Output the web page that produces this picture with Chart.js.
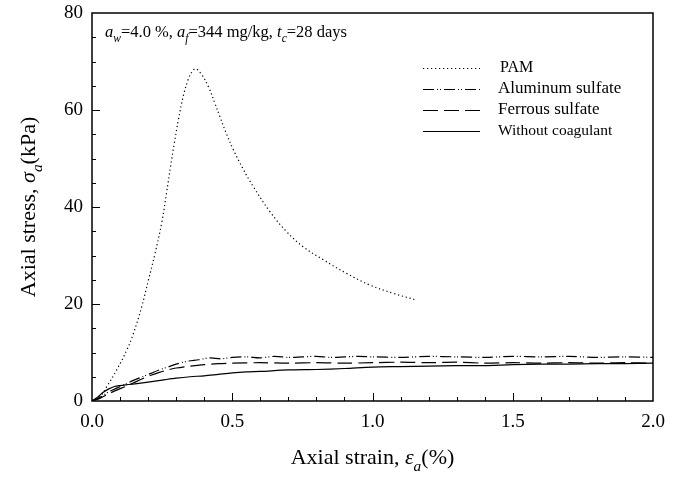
<!DOCTYPE html>
<html lang="en">
<head>
  <meta charset="UTF-8" />
  <title>Axial stress vs axial strain</title>
  <style>
    body { margin: 0; background: #fff; }
    #wrap { width: 682px; height: 477px; }
  </style>
  <script src="https://cdn.jsdelivr.net/npm/chart.js"></script>
</head>
<body>
  <div id="wrap">
    <canvas id="myChart" width="682" height="477"></canvas>
  </div>

<script>
  // valores
  const strainPam = [0, 0.03, 0.052, 0.088, 0.124, 0.147, 0.177, 0.201, 0.225, 0.248, 0.266, 0.28, 0.293, 0.308, 0.326, 0.343, 0.358, 0.37, 0.391, 0.415, 0.438, 0.456, 0.48, 0.504, 0.539, 0.575, 0.635, 0.694, 0.753, 0.825, 0.908, 0.991, 1.074, 1.157];
  const stressPam = [0, 1.0, 2.9, 6.4, 10.5, 13.8, 19.4, 24.9, 30.5, 36.6, 43.0, 48.3, 53.0, 58.0, 63.0, 66.3, 68.0, 68.5, 67.3, 64.8, 61.4, 58.6, 55.0, 51.8, 47.8, 44.2, 39.0, 34.9, 31.8, 29.1, 26.3, 23.9, 22.2, 20.8];

  const strainAl = [0, 0.03, 0.06, 0.09, 0.12, 0.15, 0.18, 0.21, 0.24, 0.27, 0.30, 0.34, 0.38, 0.42, 0.46, 0.50, 0.55, 0.60, 0.65, 0.70, 0.75, 0.80, 0.85, 0.90, 0.95, 1.0, 1.1, 1.2, 1.3, 1.4, 1.5, 1.6, 1.7, 1.8, 1.9, 2.0];
  const stressAl = [0, 0.8, 1.9, 2.7, 3.5, 4.3, 5.0, 5.7, 6.4, 7.0, 7.6, 8.2, 8.5, 8.9, 8.7, 9.0, 9.1, 8.9, 9.2, 9.0, 9.1, 9.2, 9.0, 9.1, 9.2, 9.1, 9.0, 9.2, 9.1, 9.0, 9.2, 9.1, 9.2, 9.0, 9.1, 9.0];

  const strainFe = [0, 0.03, 0.06, 0.09, 0.12, 0.15, 0.18, 0.21, 0.24, 0.27, 0.30, 0.35, 0.40, 0.45, 0.50, 0.6, 0.7, 0.8, 0.9, 1.0, 1.1, 1.2, 1.3, 1.4, 1.5, 1.6, 1.7, 1.8, 1.9, 2.0];
  const stressFe = [0, 0.6, 1.5, 2.3, 3.0, 3.8, 4.6, 5.3, 5.9, 6.4, 6.8, 7.2, 7.5, 7.7, 7.8, 7.9, 7.8, 7.9, 7.8, 7.9, 8.0, 7.9, 8.0, 7.8, 7.9, 7.8, 7.9, 7.8, 7.9, 7.8];

  const strainSem = [0, 0.02, 0.04, 0.06, 0.08, 0.10, 0.13, 0.16, 0.2, 0.25, 0.3, 0.35, 0.4, 0.45, 0.5, 0.55, 0.6, 0.7, 0.8, 0.9, 1.0, 1.1, 1.2, 1.3, 1.4, 1.5, 1.6, 1.7, 1.8, 1.9, 2.0];
  const stressSem = [0, 0.8, 1.8, 2.5, 3.0, 3.2, 3.4, 3.6, 3.9, 4.3, 4.7, 5.0, 5.2, 5.5, 5.8, 6.0, 6.1, 6.4, 6.5, 6.7, 7.0, 7.1, 7.2, 7.3, 7.3, 7.5, 7.6, 7.6, 7.7, 7.7, 7.8];

  const xTicks = [0, 0.5, 1.0, 1.5, 2.0];
  const yTicks = [0, 20, 40, 60, 80];

  const FONTE = "Liberation Serif";

  function pontos(xs, ys) {
    return xs.map((x, i) => ({ x: x, y: ys[i] }));
  }

  // texto com italico e subscrito
  function textoRico(ctx, partes, x, y, size, align) {
    let total = 0;
    partes.forEach(p => {
      const s = p.sub ? size * 0.7 : size;
      ctx.font = (p.i ? "italic " : "") + s + "px '" + FONTE + "'";
      p.w = ctx.measureText(p.t).width;
      total += p.w;
    });
    let cx = align === "center" ? x - total / 2 : x;
    partes.forEach(p => {
      const s = p.sub ? size * 0.7 : size;
      ctx.font = (p.i ? "italic " : "") + s + "px '" + FONTE + "'";
      ctx.fillText(p.t, cx, p.sub ? y + size * 0.3 : y);
      cx += p.w;
    });
  }

  const decoracao = {
    id: "decoracao",
    afterDraw(chart) {
      const ctx = chart.ctx;
      const a = chart.chartArea;
      const sx = chart.scales.x;
      const sy = chart.scales.y;
      ctx.save();
      ctx.strokeStyle = "#000";
      ctx.fillStyle = "#000";
      ctx.setLineDash([]);

      // moldura
      ctx.lineWidth = 1.5;
      ctx.strokeRect(a.left, a.top, a.right - a.left, a.bottom - a.top);

      // ticks para dentro
      ctx.lineWidth = 1;
      ctx.beginPath();
      for (let i = 1; i < 20; i++) {
        const px = Math.round(sx.getPixelForValue(i / 10)) + 0.5;
        const len = i % 5 === 0 ? 8 : 4;
        ctx.moveTo(px, a.bottom);
        ctx.lineTo(px, a.bottom - len);
      }
      for (let i = 1; i < 16; i++) {
        const py = Math.round(sy.getPixelForValue(i * 5)) + 0.5;
        const len = i % 4 === 0 ? 8 : 4;
        ctx.moveTo(a.left, py);
        ctx.lineTo(a.left + len, py);
      }
      ctx.stroke();

      // titulos dos eixos
      ctx.textBaseline = "alphabetic";
      textoRico(ctx, [
        { t: "Axial strain, " },
        { t: "\u03b5", i: 1 },
        { t: "a", i: 1, sub: 1 },
        { t: "(%)" }
      ], (a.left + a.right) / 2, 464, 22, "center");

      ctx.save();
      ctx.translate(35, (a.top + a.bottom) / 2);
      ctx.rotate(-Math.PI / 2);
      textoRico(ctx, [
        { t: "Axial stress, " },
        { t: "\u03c3", i: 1 },
        { t: "a", i: 1, sub: 1 },
        { t: "(kPa)" }
      ], 0, 0, 22, "center");
      ctx.restore();

      // anotacao
      textoRico(ctx, [
        { t: "a", i: 1 }, { t: "w", i: 1, sub: 1 }, { t: "=4.0 %, " },
        { t: "a", i: 1 }, { t: "f", i: 1, sub: 1 }, { t: "=344 mg/kg, " },
        { t: "t", i: 1 }, { t: "c", i: 1, sub: 1 }, { t: "=28 days" }
      ], 105, 37, 16.5, "left");

      // legenda
      const linhas = [68, 89, 110, 131];
      const tamanhos = [16, 17, 17, 15.5];
      chart.data.datasets.forEach((ds, k) => {
        const y = linhas[k] + 0.5;
        ctx.lineWidth = ds.borderWidth;
        ctx.setLineDash(ds.borderDash || []);
        ctx.beginPath();
        ctx.moveTo(423, y);
        ctx.lineTo(480, y);
        ctx.stroke();
        ctx.setLineDash([]);
        ctx.font = tamanhos[k] + "px '" + FONTE + "'";
        ctx.textBaseline = "middle";
        ctx.fillText(ds.label, k === 0 ? 500 : 498, linhas[k]);
      });
      ctx.restore();
    }
  };

  const ctx = document.getElementById("myChart").getContext("2d");

  new Chart(ctx, {
    type: "line",
    data: {
      datasets: [
        {
          label: "PAM",
          data: pontos(strainPam, stressPam),
          borderColor: "#000",
          borderWidth: 1.2,
          borderDash: [1.2, 2.8],
          pointRadius: 0,
          tension: 0.4
        },
        {
          label: "Aluminum sulfate",
          data: pontos(strainAl, stressAl),
          borderColor: "#000",
          borderWidth: 1.2,
          borderDash: [11, 3, 1, 2, 1, 3],
          pointRadius: 0,
          tension: 0.3
        },
        {
          label: "Ferrous sulfate",
          data: pontos(strainFe, stressFe),
          borderColor: "#000",
          borderWidth: 1.2,
          borderDash: [15, 6],
          pointRadius: 0,
          tension: 0.3
        },
        {
          label: "Without coagulant",
          data: pontos(strainSem, stressSem),
          borderColor: "#000",
          borderWidth: 1.2,
          pointRadius: 0,
          tension: 0.3
        }
      ]
    },
    options: {
      responsive: false,
      animation: false,
      layout: {
        padding: { top: 13, right: 29, left: 0, bottom: 0 }
      },
      scales: {
        x: {
          type: "linear",
          min: 0,
          max: 2,
          afterBuildTicks(scale) {
            scale.ticks = xTicks.map(v => ({ value: v }));
          },
          afterFit(scale) {
            scale.height = 76;
          },
          ticks: {
            padding: 2,
            color: "#000",
            font: { family: FONTE, size: 19 },
            callback: v => v.toFixed(1)
          },
          grid: { display: false },
          border: { display: false }
        },
        y: {
          min: 0,
          max: 80,
          afterBuildTicks(scale) {
            scale.ticks = yTicks.map(v => ({ value: v }));
          },
          afterFit(scale) {
            scale.width = 92;
          },
          ticks: {
            padding: 1,
            color: "#000",
            font: { family: FONTE, size: 19 }
          },
          grid: { display: false },
          border: { display: false }
        }
      },
      plugins: {
        legend: { display: false },
        tooltip: { enabled: false }
      }
    },
    plugins: [decoracao]
  });
</script>
</body>
</html>
